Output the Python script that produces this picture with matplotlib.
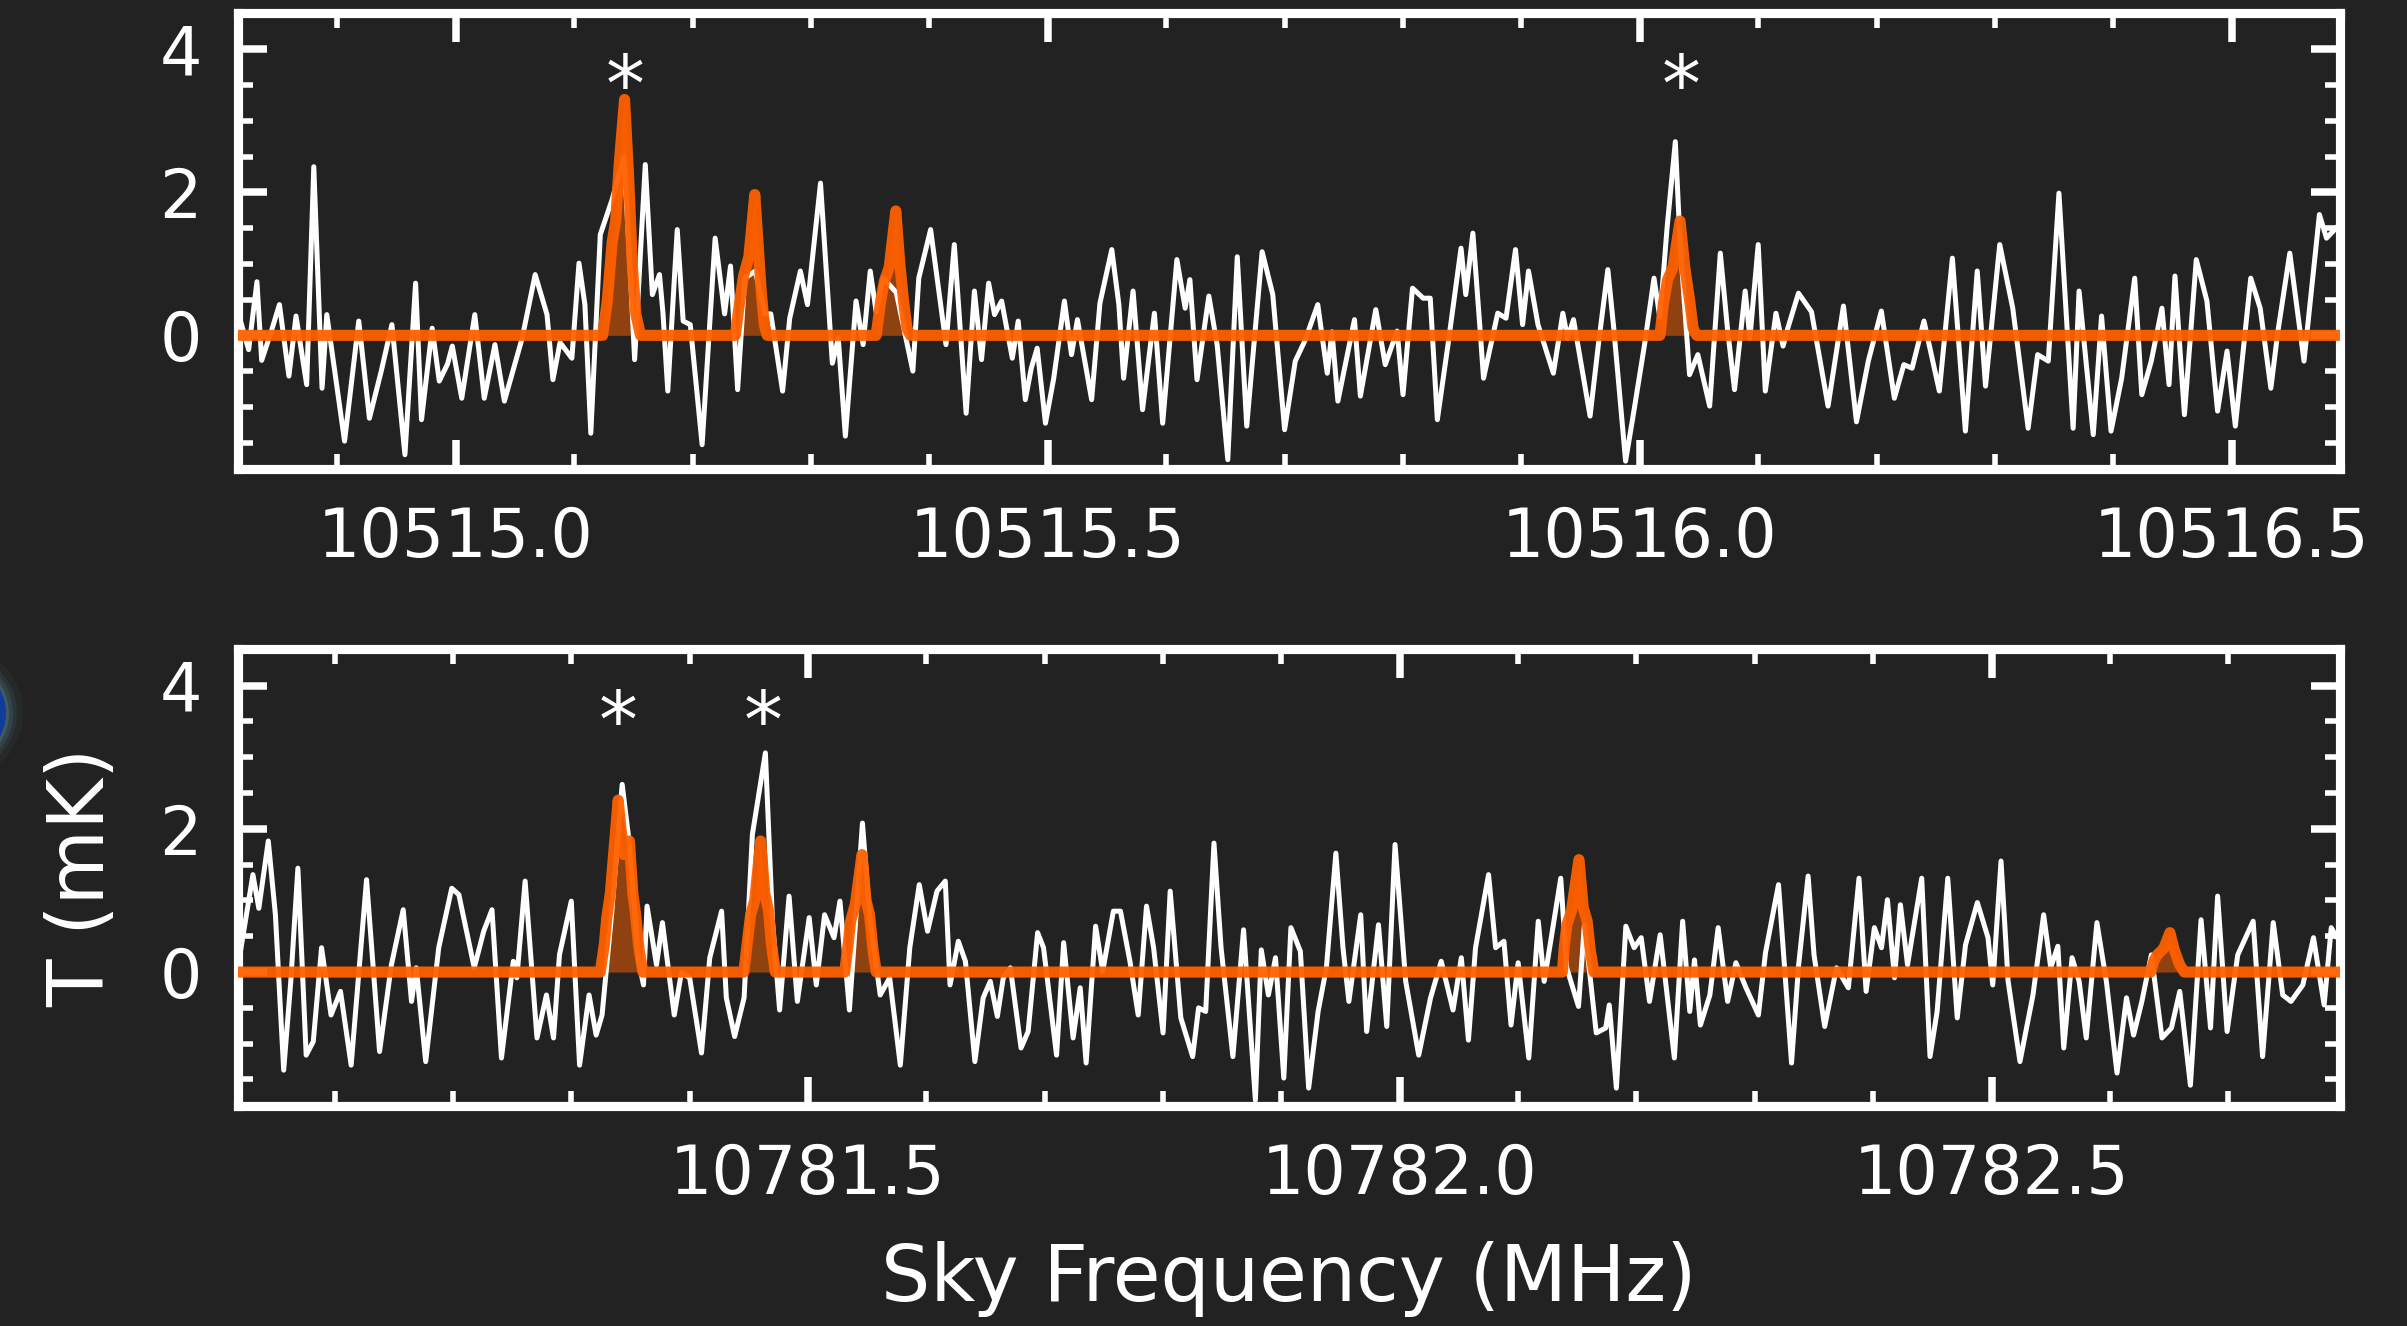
import matplotlib
matplotlib.use('Agg')
from matplotlib import pyplot as plt
from matplotlib.patches import Circle
from matplotlib.ticker import MultipleLocator

# Observed spectrum, upper window (sky frequency in MHz, T in mK)
upper_freq = [
    10514.819, 10514.825, 10514.832, 10514.836, 10514.844, 10514.851, 10514.859, 10514.865,
    10514.874, 10514.880, 10514.887, 10514.891, 10514.906, 10514.918, 10514.927, 10514.937,
    10514.946, 10514.957, 10514.966, 10514.971, 10514.980, 10514.986, 10514.993, 10514.997,
    10515.005, 10515.016, 10515.024, 10515.033, 10515.041, 10515.056, 10515.067, 10515.077,
    10515.082, 10515.088, 10515.098, 10515.104, 10515.109, 10515.114, 10515.122, 10515.132,
    10515.142, 10515.147, 10515.151, 10515.160, 10515.166, 10515.172, 10515.175, 10515.179,
    10515.187, 10515.192, 10515.198, 10515.208, 10515.219, 10515.227, 10515.232, 10515.238,
    10515.244, 10515.253, 10515.261, 10515.266, 10515.276, 10515.282, 10515.291, 10515.297,
    10515.308, 10515.318, 10515.323, 10515.329, 10515.338, 10515.344, 10515.350, 10515.355,
    10515.361, 10515.372, 10515.386, 10515.391, 10515.401,
    10515.414, 10515.421, 10515.431, 10515.438, 10515.444, 10515.450, 10515.455, 10515.461,
    10515.470, 10515.475, 10515.481, 10515.486, 10515.491, 10515.498, 10515.505, 10515.514,
    10515.520, 10515.525, 10515.537, 10515.544, 10515.554, 10515.560, 10515.564, 10515.572,
    10515.580, 10515.590, 10515.597, 10515.609, 10515.616, 10515.620, 10515.626, 10515.636,
    10515.643, 10515.652, 10515.660, 10515.668, 10515.681, 10515.690, 10515.700, 10515.709,
    10515.717, 10515.728, 10515.736, 10515.740, 10515.745, 10515.759, 10515.764, 10515.777,
    10515.785, 10515.795, 10515.800, 10515.808, 10515.817, 10515.823, 10515.829, 10515.838,
    10515.849, 10515.853, 10515.859, 10515.865, 10515.868, 10515.880, 10515.887, 10515.895,
    10515.901, 10515.906, 10515.914, 10515.927, 10515.935, 10515.939, 10515.944, 10515.958,
    10515.965, 10515.973, 10515.978, 10515.988, 10515.995, 10516.004,
    10516.012, 10516.017, 10516.023, 10516.030, 10516.034, 10516.042, 10516.049, 10516.059,
    10516.068, 10516.074, 10516.080, 10516.089, 10516.093, 10516.100, 10516.106, 10516.115,
    10516.121, 10516.125, 10516.134, 10516.145, 10516.159, 10516.172, 10516.183, 10516.193,
    10516.204, 10516.215, 10516.223, 10516.230, 10516.240, 10516.253, 10516.264, 10516.275,
    10516.285, 10516.292, 10516.304, 10516.315, 10516.328, 10516.336, 10516.345, 10516.354,
    10516.366, 10516.371, 10516.383, 10516.390, 10516.398, 10516.407, 10516.418, 10516.424,
    10516.432, 10516.441, 10516.447, 10516.452, 10516.460, 10516.470, 10516.479, 10516.488,
    10516.496, 10516.503, 10516.516, 10516.524, 10516.533, 10516.539, 10516.549, 10516.561,
    10516.574, 10516.580, 10516.588,
]
upper_temp = [
    0.15, -0.20, 0.75, -0.35, 0.05, 0.43, -0.57, 0.27,
    -0.69, 2.36, -0.74, 0.29, -1.48, 0.20, -1.16, -0.50,
    0.15, -1.67, 0.73, -1.18, 0.10, -0.64, -0.40, -0.15,
    -0.88, 0.29, -0.88, -0.13, -0.92, -0.04, 0.85, 0.29,
    -0.62, -0.10, -0.32, 1.01, 0.43, -1.37, 1.41, 1.90,
    2.50, 1.00, -0.34, 2.39, 0.57, 0.85, 0.30, -0.78,
    1.48, 0.20, 0.15, -1.53, 1.36, 0.30, 0.97, -0.76,
    0.80, 0.90, 0.30, 0.30, -0.78, 0.24, 0.90, 0.43,
    2.13, -0.39, -0.04, -1.41, 0.48, -0.13, 0.90, 0.33,
    0.80, 0.60, -0.50, 0.80, 1.48,
    -0.13, 1.27, -1.09, 0.62, -0.34, 0.73, 0.29, 0.48,
    -0.32, 0.20, -0.90, -0.46, -0.18, -1.23, -0.60, 0.48,
    -0.27, 0.22, -0.90, 0.45, 1.20, 0.43, -0.60, 0.62,
    -1.04, 0.31, -1.23, 1.06, 0.38, 0.78, -0.62, 0.55,
    -0.13, -1.74, 1.10, -1.27, 1.17, 0.57, -1.32, -0.36,
    -0.08, 0.43, -0.53, 0.05, -0.92, 0.22, -0.85, 0.36,
    -0.41, 0.06, -0.83, 0.66, 0.52, 0.52, -1.18, -0.13,
    1.22, 0.57, 1.43, 0.10, -0.60, 0.31, 0.24, 1.20,
    0.15, 0.90, 0.15, -0.53, 0.31, -0.04, 0.22, -1.13,
    -0.13, 0.92, 0.10, -1.76, -1.06, -0.13,
    0.80, 0.24, 1.50, 2.71, 1.30, -0.55, -0.27, -0.99,
    1.15, 0.10, -0.76, 0.62, -0.04, 1.27, -0.78, 0.31,
    -0.15, 0.10, 0.59, 0.33, -0.99, 0.41, -1.21, -0.36,
    0.34, -0.88, -0.41, -0.46, 0.20, -0.78, 1.08, -1.34,
    0.90, -0.71, 1.27, 0.38, -1.30, -0.27, -0.36, 1.99,
    -1.30, 0.62, -1.39, 0.27, -1.34, -0.60, 0.80, -0.83,
    -0.36, 0.38, -0.69, 0.83, -1.11, 1.06, 0.48, -1.06,
    -0.22, -1.27, 0.80, 0.38, -0.74, 0.06, 1.15, -0.36,
    1.69, 1.36, 1.50,
]

# Observed spectrum, lower window
lower_freq = [
    10781.021, 10781.031, 10781.036, 10781.044, 10781.050, 10781.057, 10781.063, 10781.069,
    10781.076, 10781.082, 10781.089, 10781.097, 10781.105, 10781.114, 10781.127, 10781.138,
    10781.148, 10781.158, 10781.165, 10781.169, 10781.177, 10781.188, 10781.199, 10781.205,
    10781.218, 10781.226, 10781.233, 10781.241, 10781.251, 10781.254, 10781.261, 10781.271,
    10781.279, 10781.285, 10781.290, 10781.300, 10781.307, 10781.315, 10781.321, 10781.326,
    10781.334, 10781.343, 10781.349, 10781.357, 10781.361, 10781.364, 10781.372, 10781.377,
    10781.387, 10781.393, 10781.400, 10781.410, 10781.417, 10781.427, 10781.431, 10781.438,
    10781.446, 10781.453, 10781.464, 10781.470, 10781.476, 10781.484, 10781.491, 10781.501,
    10781.507, 10781.514, 10781.522, 10781.527, 10781.535, 10781.546, 10781.552, 10781.561,
    10781.569, 10781.578, 10781.586, 10781.594, 10781.601, 10781.609,
    10781.616, 10781.620, 10781.627, 10781.633, 10781.641, 10781.648, 10781.654, 10781.660,
    10781.665, 10781.671, 10781.680, 10781.686, 10781.694, 10781.699, 10781.710, 10781.716,
    10781.724, 10781.730, 10781.735, 10781.743, 10781.749, 10781.758, 10781.764, 10781.772,
    10781.779, 10781.786, 10781.792, 10781.800, 10781.806, 10781.815, 10781.825, 10781.830,
    10781.836, 10781.843, 10781.849, 10781.859, 10781.868, 10781.878, 10781.883, 10781.889,
    10781.895, 10781.902, 10781.908, 10781.916, 10781.923, 10781.931, 10781.938, 10781.946,
    10781.952, 10781.957, 10781.967, 10781.972, 10781.982, 10781.989, 10781.996, 10782.005,
    10782.016, 10782.026, 10782.035, 10782.045, 10782.052, 10782.058, 10782.064, 10782.075,
    10782.081, 10782.088, 10782.094, 10782.100, 10782.109, 10782.117, 10782.122, 10782.128,
    10782.136, 10782.141, 10782.151, 10782.156, 10782.166, 10782.174, 10782.177, 10782.183,
    10782.191, 10782.198, 10782.204,
    10782.211, 10782.220, 10782.232, 10782.239, 10782.245, 10782.249, 10782.254, 10782.262,
    10782.269, 10782.277, 10782.284, 10782.292, 10782.303, 10782.309, 10782.320, 10782.331,
    10782.337, 10782.345, 10782.350, 10782.359, 10782.369, 10782.379, 10782.388, 10782.394,
    10782.401, 10782.407, 10782.412, 10782.418, 10782.423, 10782.429, 10782.441, 10782.448,
    10782.454, 10782.463, 10782.471, 10782.478, 10782.488, 10782.497, 10782.501, 10782.508,
    10782.514, 10782.524, 10782.535, 10782.544, 10782.550, 10782.556, 10782.561, 10782.568,
    10782.574, 10782.580, 10782.589, 10782.597, 10782.606, 10782.614, 10782.620, 10782.627,
    10782.635, 10782.644, 10782.652, 10782.659, 10782.668, 10782.677, 10782.685, 10782.691,
    10782.699, 10782.708, 10782.721, 10782.729, 10782.738, 10782.746, 10782.753, 10782.763,
    10782.772, 10782.781, 10782.787, 10782.791,
]
lower_temp = [
    0.34, 1.36, 0.89, 1.83, 0.80, -1.37, -0.13, 1.45,
    -1.16, -0.97, 0.34, -0.60, -0.27, -1.30, 1.29, -1.11,
    0.10, 0.87, -0.41, 0.06, -1.25, 0.34, 1.17, 1.08,
    0.06, 0.57, 0.87, -1.20, 0.15, -0.08, 1.27, -0.92,
    -0.32, -0.92, 0.24, 0.99, -1.30, -0.32, -0.88, -0.60,
    0.80, 2.62, 1.80, 0.15, -0.18, 0.92, 0.10, 0.69,
    -0.60, -0.01, -0.08, -1.13, 0.20, 0.85, -0.36, -0.90,
    -0.36, 1.92, 3.06, 0.71, -0.53, 1.06, -0.41, 0.76,
    -0.18, 0.80, 0.48, 0.99, -0.53, 2.08, 0.80, -0.32,
    -0.08, -1.30, 0.34, 1.22, 0.57, 1.13,
    1.27, -0.18, 0.43, 0.15, -1.25, -0.36, -0.13, -0.62,
    -0.08, 0.06, -1.06, -0.83, 0.55, 0.34, -1.16, 0.41,
    -0.92, -0.22, -1.27, 0.64, 0.01, 0.85, 0.85, 0.15,
    -0.60, 0.92, 0.34, -0.85, 1.13, -0.64, -1.18, -0.50,
    -0.55, 1.80, 0.34, -1.18, 0.59, -1.79, 0.31, -0.32,
    0.20, -1.48, 0.62, 0.29, -1.62, -0.55, 0.06, 1.66,
    0.34, -0.41, 0.80, -0.83, 0.66, -0.76, 1.78, -0.13,
    -1.16, -0.36, 0.15, -0.53, 0.20, -0.95, 0.34, 1.36,
    0.34, 0.43, -0.74, 0.13, -1.20, 0.71, -0.13, 0.48,
    1.31, 0.06, -0.48, 0.66, -0.85, -0.78, -0.46, -1.62,
    0.64, 0.34, 0.48,
    -0.41, 0.52, -1.20, 0.71, -0.55, 0.17, -0.74, -0.32,
    0.62, -0.41, 0.13, -0.20, -0.60, 0.27, 1.22, -1.27,
    0.10, 1.34, 0.24, -0.76, 0.06, -0.22, 1.31, -0.27,
    0.62, 0.34, 1.01, -0.08, 0.94, 0.10, 1.31, -1.18,
    -0.55, 1.31, -0.64, 0.38, 0.97, 0.48, -0.18, 1.55,
    -0.13, -1.25, -0.32, 0.80, 0.06, 0.36, -1.06, 0.20,
    -0.13, -0.92, 0.69, -0.13, -1.41, -0.36, -0.88, -0.41,
    0.24, -0.92, -0.78, -0.27, -1.58, 0.73, -0.78, 1.06,
    -0.83, 0.24, 0.71, -1.18, 0.69, -0.32, -0.41, -0.18,
    0.48, -0.46, 0.62, 0.50,
]

# Fitted line model (orange), upper window
upper_model_freq = [
    10514.816,
    10515.124, 10515.128, 10515.132, 10515.135, 10515.138, 10515.1425, 10515.146, 10515.149, 10515.152, 10515.156,
    10515.236, 10515.240, 10515.243, 10515.2475, 10515.2525, 10515.256, 10515.258, 10515.2605, 10515.263,
    10515.355, 10515.359, 10515.362, 10515.366, 10515.3716, 10515.375, 10515.378, 10515.381, 10515.384,
    10516.017, 10516.020, 10516.0235, 10516.028, 10516.034, 10516.038, 10516.042, 10516.045, 10516.048,
    10516.592,
]
upper_model_temp = [
    0.0,
    0.0, 0.5, 1.3, 1.6, 2.4, 3.3, 2.2, 1.0, 0.3, 0.0,
    0.0, 0.5, 0.83, 1.1, 1.97, 1.1, 0.6, 0.15, 0.0,
    0.0, 0.5, 0.76, 0.95, 1.74, 1.0, 0.5, 0.1, 0.0,
    0.0, 0.45, 0.78, 0.95, 1.6, 0.95, 0.5, 0.1, 0.0,
    0.0,
]

# Fitted line model (orange), lower window
lower_model_freq = [
    10781.018,
    10781.3245, 10781.328, 10781.330, 10781.333, 10781.3396, 10781.3442, 10781.3491, 10781.352, 10781.354, 10781.357, 10781.3605,
    10781.4458, 10781.449, 10781.4515, 10781.455, 10781.460, 10781.4635, 10781.4667, 10781.469, 10781.4724,
    10781.531, 10781.534, 10781.536, 10781.540, 10781.5456, 10781.549, 10781.552, 10781.555, 10781.5577,
    10782.1374, 10782.139, 10782.1412, 10782.145, 10782.1514, 10782.155, 10782.1583, 10782.161, 10782.164,
    10782.6345, 10782.637, 10782.640, 10782.6455, 10782.6507, 10782.654, 10782.6552, 10782.659, 10782.6628,
    10782.795,
]
lower_model_temp = [
    0.0,
    0.0, 0.4, 0.76, 1.1, 2.4, 1.64, 1.83, 1.1, 0.85, 0.35, 0.0,
    0.0, 0.45, 0.8, 1.0, 1.83, 1.1, 0.85, 0.4, 0.0,
    0.0, 0.4, 0.71, 0.95, 1.64, 1.0, 0.8, 0.3, 0.0,
    0.0, 0.35, 0.66, 0.85, 1.57, 0.9, 0.71, 0.3, 0.0,
    0.0, 0.15, 0.24, 0.33, 0.55, 0.33, 0.27, 0.1, 0.0,
    0.0,
]

# Detected lines marked with an asterisk
upper_star_freq = [10515.143, 10516.035]
lower_star_freq = [10781.340, 10781.462]

upper_xlim = (10514.816, 10516.5914)
lower_xlim = (10781.0184, 10782.7944)
temp_lim = (-1.87, 4.51)

bg = '#222222'
orange = '#ff6000'

fig = plt.figure(figsize=(12.035, 6.63), dpi=200, facecolor=bg)
ax1 = fig.add_axes([238 / 2407, 1 - 469 / 1326, 2102 / 2407, 456 / 1326])
ax2 = fig.add_axes([238 / 2407, 1 - 1106 / 1326, 2102 / 2407, 457 / 1326])

panels = [
    (ax1, upper_freq, upper_temp, upper_model_freq, upper_model_temp, upper_star_freq, upper_xlim),
    (ax2, lower_freq, lower_temp, lower_model_freq, lower_model_temp, lower_star_freq, lower_xlim),
]

for ax, freq, temp, mfreq, mtemp, stars, xlim in panels:
    ax.set_facecolor(bg)
    ax.fill_between(mfreq, 0, mtemp, color=orange, alpha=0.5, lw=0, zorder=1)
    ax.plot(freq, temp, color='white', lw=1.8, zorder=2)
    ax.plot(mfreq, mtemp, color=orange, lw=4.0, alpha=0.95, zorder=3,
            solid_joinstyle='round', solid_capstyle='round')
    for f in stars:
        ax.text(f, 3.45, '*', color='white', fontsize=28, ha='center', va='center')

    ax.set_xlim(*xlim)
    ax.set_ylim(*temp_lim)
    ax.xaxis.set_major_locator(MultipleLocator(0.5))
    ax.xaxis.set_minor_locator(MultipleLocator(0.1))
    ax.yaxis.set_major_locator(MultipleLocator(2))
    ax.yaxis.set_minor_locator(MultipleLocator(0.5))
    ax.xaxis.set_major_formatter(plt.FormatStrFormatter('%.1f'))
    ax.tick_params(which='both', direction='in', top=True, right=True,
                   colors='white', labelsize=24, pad=13)
    ax.tick_params(which='major', length=10.5, width=2.7)
    ax.tick_params(which='minor', length=5.5, width=2.0)
    for sp in ax.spines.values():
        sp.set_color('white')
        sp.set_linewidth(3.3)

ax2.set_xlabel('Sky Frequency (MHz)', color='white', fontsize=28, labelpad=12)
ax2.set_ylabel('T (mK)', color='white', fontsize=28, labelpad=14)

# blue glowing dot cut by the left edge
for r, a in [(0.33, 0.07), (0.30, 0.11), (0.28, 0.18), (0.26, 0.3)]:
    fig.add_artist(Circle((-0.215, 3.065), r, transform=fig.dpi_scale_trans,
                          color='#5d8f9c', alpha=a, lw=0))
fig.add_artist(Circle((-0.215, 3.065), 0.245, transform=fig.dpi_scale_trans,
                      color='#123c9c', lw=0))

fig.savefig('out.png', dpi=200, facecolor=bg)
